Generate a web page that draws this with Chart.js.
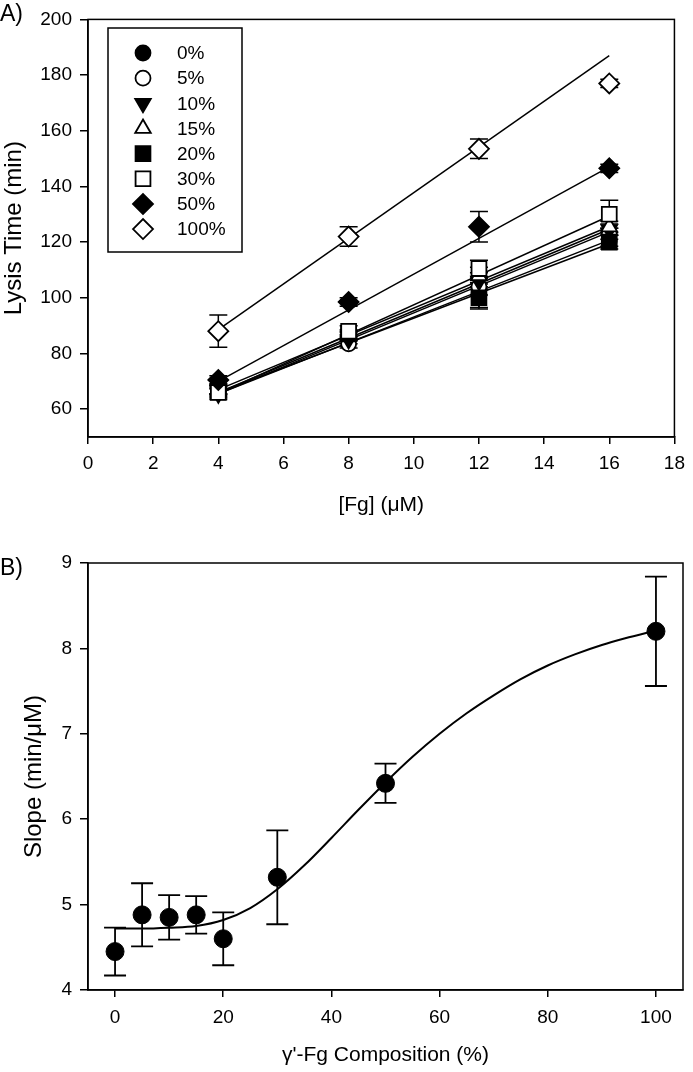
<!DOCTYPE html>
<html>
<head>
<meta charset="utf-8">
<script src="https://cdn.jsdelivr.net/npm/chart.js"></script>
<style>
  body { margin: 0; background: #fff; font-family: "Liberation Sans", Arial, sans-serif; }
  #wrap { position: relative; width: 693px; height: 1072px; }
  canvas { position: absolute; left: 0; }
  .panel { position: absolute; left: 0; font-size: 23px; line-height: 23px; color: #000; }
</style>
</head>
<body>
<div id="wrap">
  <canvas id="chartA" width="693" height="540" style="top:0"></canvas>
  <canvas id="chartB" width="693" height="532" style="top:540px"></canvas>
  <div class="panel" style="top:2px">A)</div>
  <div class="panel" style="top:556px">B)</div>
</div>
<script>
// ---- panel A: lysis time vs [Fg] ----
const fgConc = [4, 8, 12, 16];
const fitEnds = [4, 16];
const compLabels = ['0%', '5%', '10%', '15%', '20%', '30%', '50%', '100%'];

const lysis0   = [66.5, 86, 101, 120.5];
const lysis5   = [67, 83.5, 104, 123];
const lysis10  = [65.5, 85, 106, 124.5];
const lysis15  = [67, 86.5, 108, 125.5];
const lysis20  = [67, 87, 100, 120];
const lysis30  = [66, 88, 110.5, 130];
const lysis50  = [70.5, 98.5, 125.5, 146.5];
const lysis100 = [88, 122, 153.5, 177];

const err0   = [2, 1.5, 4.5, 2];
const err5   = [1.5, 1.5, 3, 2];
const err10  = [2, 1.5, 3, 2];
const err15  = [1.5, 1.5, 3, 2];
const err20  = [2, 1.5, 4, 2.5];
const err30  = [2, 2, 3, 5];
const err50  = [1.5, 1.5, 5.5, 1.5];
const err100 = [5.8, 3.5, 3.5, 1.5];

// fitted lines, read at x = 4 and x = 16
const fit0   = [66, 119.4];
const fit5   = [66, 124.6];
const fit10  = [65.5, 123.7];
const fit15  = [67, 125.6];
const fit20  = [65.5, 120.7];
const fit30  = [65.6, 129.4];
const fit50  = [70, 147];
const fit100 = [88.6, 187];

const yTicksA = [60, 80, 100, 120, 140, 160, 180, 200];
const xTicksA = [0, 2, 4, 6, 8, 10, 12, 14, 16, 18];

// ---- panel B: slope vs gamma' composition ----
const composition = [0, 5, 10, 15, 20, 30, 50, 100];
const slopes      = [4.45, 4.88, 4.85, 4.88, 4.60, 5.32, 6.42, 8.20];
const slopeErr    = [0.28, 0.37, 0.26, 0.22, 0.31, 0.55, 0.23, 0.64];
const curveX = [0, 5, 10, 15, 20, 25, 30, 35, 40, 45, 50, 55, 60, 65, 70, 75, 80, 85, 90, 95, 100];
const curveY = [4.72, 4.72, 4.73, 4.75, 4.82, 4.96, 5.18, 5.46, 5.78, 6.11, 6.43, 6.73, 7.00, 7.24, 7.45, 7.64, 7.80, 7.93, 8.04, 8.13, 8.21];
const xTicksB = [0, 20, 40, 60, 80, 100];
const yTicksB = [4, 5, 6, 7, 8, 9];

const FONT = '"Liberation Sans", Arial, sans-serif';
Chart.defaults.font.family = FONT;
Chart.defaults.color = '#000';

const lysisSets = [lysis0, lysis5, lysis10, lysis15, lysis20, lysis30, lysis50, lysis100];
const errSets = [err0, err5, err10, err15, err20, err30, err50, err100];
const fitSets = [fit0, fit5, fit10, fit15, fit20, fit30, fit50, fit100];
const markerStyles = [
  { pointStyle: 'circle', radius: 7.5, fill: true },
  { pointStyle: 'circle', radius: 7.5, fill: false },
  { pointStyle: 'triangle', radius: 9, fill: true, rotation: 180 },
  { pointStyle: 'triangle', radius: 9, fill: false },
  { pointStyle: 'rect', radius: 10.5, fill: true },
  { pointStyle: 'rect', radius: 10.5, fill: false },
  { pointStyle: 'rectRot', radius: 10, fill: true },
  { pointStyle: 'rectRot', radius: 10, fill: false }
];

function pts(xs, ys) { return xs.map((x, i) => ({ x: x, y: ys[i] })); }

const errorBars = {
  id: 'errorBars',
  beforeDatasetsDraw(chart, args, opts) {
    const { ctx, scales: { x, y } } = chart;
    ctx.save();
    ctx.strokeStyle = '#000';
    ctx.lineWidth = opts.width;
    chart.data.datasets.forEach(ds => {
      if (!ds.errors) return;
      ds.data.forEach((p, i) => {
        const e = ds.errors[i];
        if (!e) return;
        const px = x.getPixelForValue(p.x);
        const top = y.getPixelForValue(p.y + e);
        const bot = y.getPixelForValue(p.y - e);
        ctx.beginPath();
        ctx.moveTo(px, top); ctx.lineTo(px, bot);
        ctx.moveTo(px - opts.cap, top); ctx.lineTo(px + opts.cap, top);
        ctx.moveTo(px - opts.cap, bot); ctx.lineTo(px + opts.cap, bot);
        ctx.stroke();
      });
    });
    ctx.restore();
  }
};

const frame = {
  id: 'frame',
  beforeDatasetsDraw(chart) {
    const { ctx, chartArea: a } = chart;
    ctx.save();
    ctx.strokeStyle = '#000';
    ctx.lineWidth = 1.5;
    ctx.strokeRect(a.left, a.top, a.right - a.left, a.bottom - a.top);
    ctx.restore();
  }
};

const boxLegend = {
  id: 'boxLegend',
  afterDraw(chart) {
    const ctx = chart.ctx;
    ctx.save();
    ctx.strokeStyle = '#000';
    ctx.lineWidth = 1.5;
    ctx.strokeRect(108, 28, 134, 224);
    ctx.font = '19px ' + FONT;
    ctx.textBaseline = 'middle';
    ctx.textAlign = 'left';
    const items = chart.data.datasets.filter(d => d.inLegend);
    items.forEach((d, i) => {
      const y = 53 + i * 25.15;
      ctx.fillStyle = d.backgroundColor;
      ctx.strokeStyle = '#000';
      ctx.lineWidth = d.pointBorderWidth;
      Chart.helpers.drawPoint(ctx, {
        pointStyle: d.pointStyle, radius: d.pointRadius,
        rotation: d.rotation || 0, borderWidth: d.pointBorderWidth
      }, 143, y);
      ctx.fillStyle = '#000';
      ctx.fillText(d.label, 177, y + 1);
    });
    ctx.restore();
  }
};

// datasets for A
const dsA = [];
compLabels.forEach((lab, i) => {
  dsA.push({
    label: lab + ' fit',
    data: pts(fitEnds, fitSets[i]),
    showLine: true,
    borderColor: '#000',
    borderWidth: 1.5,
    pointRadius: 0,
    order: 20
  });
});
compLabels.forEach((lab, i) => {
  const m = markerStyles[i];
  dsA.push({
    label: lab,
    inLegend: true,
    data: pts(fgConc, lysisSets[i]),
    errors: errSets[i],
    showLine: false,
    pointStyle: m.pointStyle,
    pointRadius: m.radius,
    pointHoverRadius: m.radius,
    rotation: m.rotation || 0,
    backgroundColor: m.fill ? '#000' : '#fff',
    borderColor: '#000',
    pointBorderWidth: 1.8,
    borderWidth: 1.8,
    order: 10 - i
  });
});

function axisCommon(extra) {
  return Object.assign({
    type: 'linear',
    grid: { drawOnChartArea: false, drawTicks: true, color: '#000', lineWidth: 1.5, tickLength: 7 },
    border: { display: true, color: '#000', width: 1.5 }
  }, extra);
}

new Chart(document.getElementById('chartA'), {
  type: 'scatter',
  data: { datasets: dsA },
  options: {
    responsive: false,
    animation: false,
    devicePixelRatio: 1,
    layout: { padding: { left: 0, top: 11, right: 11, bottom: 0 } },
    plugins: { legend: { display: false }, tooltip: { enabled: false }, errorBars: { width: 1.5, cap: 9 } },
    scales: {
      x: axisCommon({
        position: 'bottom', min: 0, max: 18,
        afterBuildTicks: s => { s.ticks = xTicksA.map(v => ({ value: v })); },
        afterFit: s => { s.height = 103; },
        ticks: { font: { size: 19 }, color: '#000', padding: 8, maxRotation: 0 },
        title: { display: true, text: '[Fg] (\u03bcM)', font: { size: 21 }, color: '#000', padding: { top: 0, bottom: 22 } }
      }),
      y: axisCommon({
        position: 'left', min: 50, max: 200,
        afterBuildTicks: s => { s.ticks = yTicksA.map(v => ({ value: v })); },
        afterFit: s => { s.width = 88; },
        grid: { drawOnChartArea: false, drawTicks: true, color: '#000', lineWidth: 1.5, tickLength: 8 },
        ticks: { font: { size: 19 }, color: '#000', padding: 8 },
        title: { display: true, text: 'Lysis Time (min)', font: { size: 24 }, color: '#000', padding: { top: 0, bottom: 0 } }
      })
    }
  },
  plugins: [frame, errorBars, boxLegend]
});

new Chart(document.getElementById('chartB'), {
  type: 'scatter',
  data: {
    datasets: [
      {
        label: 'fit',
        data: pts(curveX, curveY),
        showLine: true,
        cubicInterpolationMode: 'monotone',
        borderColor: '#000',
        borderWidth: 2,
        pointRadius: 0,
        order: 5
      },
      {
        label: 'slope',
        data: pts(composition, slopes),
        errors: slopeErr,
        showLine: false,
        pointStyle: 'circle',
        pointRadius: 9,
        pointHoverRadius: 9,
        backgroundColor: '#000',
        borderColor: '#000',
        borderWidth: 1,
        order: 1
      }
    ]
  },
  options: {
    responsive: false,
    animation: false,
    devicePixelRatio: 1,
    layout: { padding: { left: 0, top: 23, right: 10, bottom: 0 } },
    plugins: { legend: { display: false }, tooltip: { enabled: false }, errorBars: { width: 1.8, cap: 11 } },
    scales: {
      x: axisCommon({
        position: 'bottom', min: -5, max: 105,
        afterBuildTicks: s => { s.ticks = xTicksB.map(v => ({ value: v })); },
        afterFit: s => { s.height = 82; },
        ticks: { font: { size: 19 }, color: '#000', padding: 9, maxRotation: 0 },
        title: { display: true, text: "\u03b3'-Fg Composition (%)", font: { size: 21 }, color: '#000', padding: { top: 0, bottom: 4 } }
      }),
      y: axisCommon({
        position: 'left', min: 4, max: 9,
        afterBuildTicks: s => { s.ticks = yTicksB.map(v => ({ value: v })); },
        afterFit: s => { s.width = 88; },
        grid: { drawOnChartArea: false, drawTicks: true, color: '#000', lineWidth: 1.5, tickLength: 8 },
        ticks: { font: { size: 19 }, color: '#000', padding: 8 },
        title: { display: true, text: 'Slope (min/\u03bcM)', font: { size: 24 }, color: '#000', padding: { top: 20, bottom: 0 } }
      })
    }
  },
  plugins: [frame, errorBars]
});
</script>
</body>
</html>
